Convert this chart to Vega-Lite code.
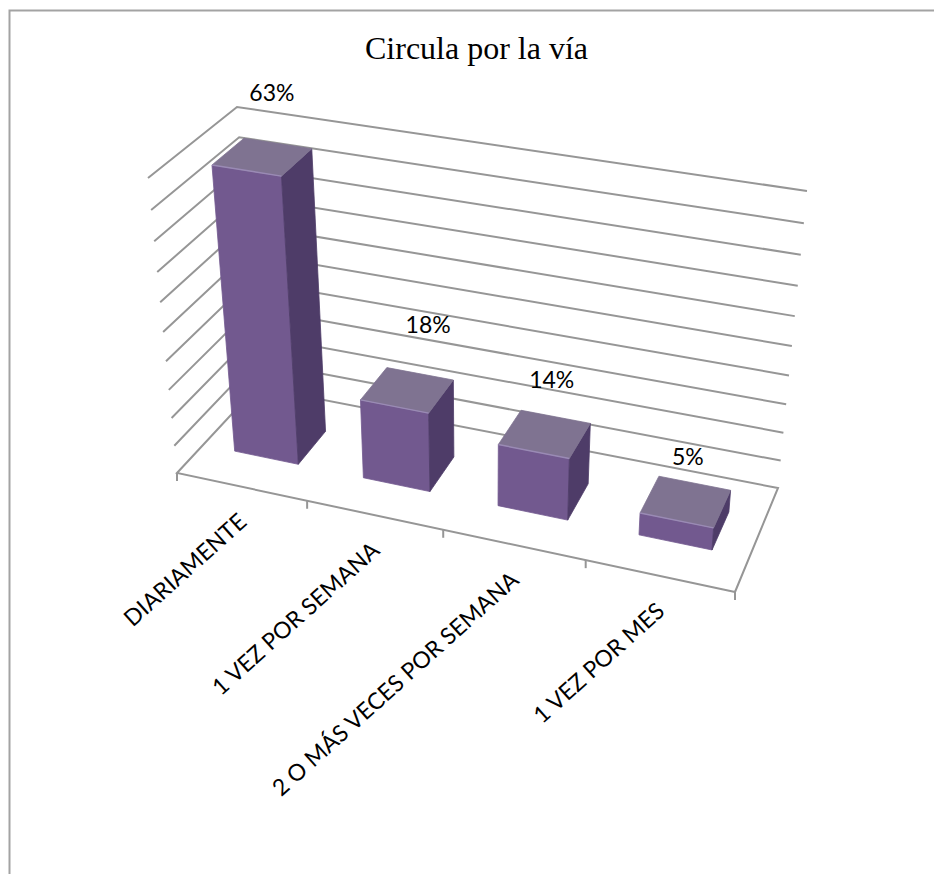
{
  "$schema": "https://vega.github.io/schema/vega-lite/v6.json",
  "width": 934,
  "height": 874,
  "padding": 0,
  "autosize": "none",
  "background": "white",
  "title": {"text": "Circula por la vía", "font": "Liberation Serif", "fontSize": 32, "fontWeight": "normal", "color": "#000000", "anchor": "middle", "offset": -66, "dx": 9.5},
  "config": {"view": {"stroke": null}},
  "datasets": {
    "respuestas": [
      {"categoria": "DIARIAMENTE", "porcentaje": 63},
      {"categoria": "1 VEZ POR SEMANA", "porcentaje": 18},
      {"categoria": "2 O MÁS VECES POR SEMANA", "porcentaje": 14},
      {"categoria": "1 VEZ POR MES", "porcentaje": 5}
    ],
    "rejilla": [
      {"valor": 0}, {"valor": 6.4}, {"valor": 12.8}, {"valor": 19.2}, {"valor": 25.6}, {"valor": 32},
      {"valor": 38.4}, {"valor": 44.8}, {"valor": 51.2}, {"valor": 57.6}, {"valor": 64}
    ],
    "divisiones": [{"limite": 0}, {"limite": 1}, {"limite": 2}, {"limite": 3}, {"limite": 4}]
  },
  "encoding": {
    "x": {"field": "px", "type": "quantitative", "scale": {"domain": [0, 934]}, "axis": null},
    "y": {"field": "py", "type": "quantitative", "scale": {"domain": [0, 874], "reverse": true}, "axis": null}
  },
  "layer": [
    {
      "data": {"name": "rejilla"},
      "transform": [
        {"calculate": "[{k:0,u:1,w:0,suelo:true},{k:1,u:0,w:0,suelo:false},{k:2,u:0,w:1,suelo:false},{k:3,u:1,w:1,suelo:false},{k:4,u:1,w:0,suelo:true}]", "as": "vertices"},
        {"flatten": ["vertices"], "as": ["vertice"]},
        {"filter": "datum.valor === 0 || !datum.vertice.suelo"},
        {"calculate": "datum.vertice.k", "as": "k"},
        {"calculate": "datum.vertice.u", "as": "uu"},
        {"calculate": "datum.vertice.w", "as": "ww"},
        {"calculate": "(datum.valor/64)/((datum.valor/64)+1.092*(1-datum.valor/64))", "as": "vv"},
        {"calculate": "(1-datum.vv)*((1-datum.ww)*((1-datum.uu)*177+datum.uu*735)+datum.ww*((1-datum.uu)*257+datum.uu*778))+datum.vv*((1-datum.ww)*((1-datum.uu)*148+datum.uu*758)+datum.ww*((1-datum.uu)*237+datum.uu*807))", "as": "px"},
        {"calculate": "(1-datum.vv)*((1-datum.ww)*((1-datum.uu)*473+datum.uu*592)+datum.ww*((1-datum.uu)*387+datum.uu*488))+datum.vv*((1-datum.ww)*((1-datum.uu)*178+datum.uu*279)+datum.ww*((1-datum.uu)*107+datum.uu*191))", "as": "py"}
      ],
      "mark": {"type": "line", "stroke": "#969696", "strokeWidth": 2, "interpolate": "linear"},
      "encoding": {"detail": {"field": "valor"}, "order": {"field": "k", "type": "quantitative"}}
    },
    {
      "data": {"name": "divisiones"},
      "transform": [
        {"calculate": "(datum.limite/4)/((datum.limite/4)+1.096*(1-datum.limite/4))", "as": "uu"},
        {"calculate": "(1-datum.uu)*177+datum.uu*735", "as": "px"},
        {"calculate": "(1-datum.uu)*473+datum.uu*592", "as": "py"},
        {"calculate": "datum.py+8", "as": "py2"}
      ],
      "mark": {"type": "rule", "stroke": "#969696", "strokeWidth": 2},
      "encoding": {"y2": {"field": "py2"}}
    },
    {
      "data": {"name": "respuestas"},
      "transform": [
        {"window": [{"op": "row_number", "as": "n"}]},
        {"calculate": "[{cara:'frente',k:0,a:0,b:0,c:0},{cara:'frente',k:1,a:1,b:0,c:0},{cara:'frente',k:2,a:1,b:1,c:0},{cara:'frente',k:3,a:0,b:1,c:0},{cara:'lado',k:0,a:1,b:0,c:0},{cara:'lado',k:1,a:1,b:0,c:1},{cara:'lado',k:2,a:1,b:1,c:1},{cara:'lado',k:3,a:1,b:1,c:0},{cara:'tapa',k:0,a:0,b:1,c:0},{cara:'tapa',k:1,a:1,b:1,c:0},{cara:'tapa',k:2,a:1,b:1,c:1},{cara:'tapa',k:3,a:0,b:1,c:1}]", "as": "vertices"},
        {"flatten": ["vertices"], "as": ["vertice"]},
        {"calculate": "datum.vertice.cara", "as": "cara"},
        {"calculate": "datum.vertice.k", "as": "k"},
        {"calculate": "(datum.n-1+0.25+0.5*datum.vertice.a)/4", "as": "t"},
        {"calculate": "datum.t/(datum.t+1.096*(1-datum.t))", "as": "uu"},
        {"calculate": "0.33+0.37*datum.vertice.c", "as": "ww"},
        {"calculate": "datum.vertice.b*datum.porcentaje/64", "as": "v"},
        {"calculate": "datum.v/(datum.v+1.092*(1-datum.v))", "as": "vv"},
        {"calculate": "(1-datum.vv)*((1-datum.ww)*((1-datum.uu)*177+datum.uu*735)+datum.ww*((1-datum.uu)*257+datum.uu*778))+datum.vv*((1-datum.ww)*((1-datum.uu)*148+datum.uu*758)+datum.ww*((1-datum.uu)*237+datum.uu*807))", "as": "px"},
        {"calculate": "(1-datum.vv)*((1-datum.ww)*((1-datum.uu)*473+datum.uu*592)+datum.ww*((1-datum.uu)*387+datum.uu*488))+datum.vv*((1-datum.ww)*((1-datum.uu)*178+datum.uu*279)+datum.ww*((1-datum.uu)*107+datum.uu*191))", "as": "py"}
      ],
      "mark": {"type": "line", "strokeWidth": 0.8, "interpolate": "linear-closed"},
      "encoding": {
        "detail": [{"field": "categoria"}, {"field": "cara"}],
        "order": {"field": "k", "type": "quantitative"},
        "fill": {"field": "cara", "type": "nominal", "legend": null, "scale": {"domain": ["frente", "lado", "tapa"], "range": ["#72598f", "#4e3c68", "#7f7391"]}},
        "stroke": {"field": "cara", "type": "nominal", "legend": null, "scale": {"domain": ["frente", "lado", "tapa"], "range": ["#72598f", "#4e3c68", "#7f7391"]}}
      }
    },
    {
      "data": {"name": "respuestas"},
      "transform": [
        {"window": [{"op": "row_number", "as": "n"}]},
        {"calculate": "[0,1]", "as": "extremos"},
        {"flatten": ["extremos"], "as": ["a"]},
        {"calculate": "(datum.n-1+0.25+0.5*datum.a)/4", "as": "t"},
        {"calculate": "datum.t/(datum.t+1.096*(1-datum.t))", "as": "uu"},
        {"calculate": "0.33", "as": "ww"},
        {"calculate": "datum.porcentaje/64", "as": "v"},
        {"calculate": "datum.v/(datum.v+1.092*(1-datum.v))", "as": "vv"},
        {"calculate": "(1-datum.vv)*((1-datum.ww)*((1-datum.uu)*177+datum.uu*735)+datum.ww*((1-datum.uu)*257+datum.uu*778))+datum.vv*((1-datum.ww)*((1-datum.uu)*148+datum.uu*758)+datum.ww*((1-datum.uu)*237+datum.uu*807))", "as": "px"},
        {"calculate": "(1-datum.vv)*((1-datum.ww)*((1-datum.uu)*473+datum.uu*592)+datum.ww*((1-datum.uu)*387+datum.uu*488))+datum.vv*((1-datum.ww)*((1-datum.uu)*178+datum.uu*279)+datum.ww*((1-datum.uu)*107+datum.uu*191))", "as": "py"}
      ],
      "mark": {"type": "line", "stroke": "#9a8ab5", "strokeWidth": 1.4},
      "encoding": {"detail": {"field": "categoria"}, "order": {"field": "a", "type": "quantitative"}}
    },
    {
      "data": {"name": "respuestas"},
      "transform": [
        {"window": [{"op": "row_number", "as": "n"}]},
        {"calculate": "(datum.n-0.5)/4", "as": "t"},
        {"calculate": "datum.t/(datum.t+1.096*(1-datum.t))", "as": "uu"},
        {"calculate": "0.5", "as": "ww"},
        {"calculate": "datum.porcentaje/64", "as": "v"},
        {"calculate": "datum.v/(datum.v+1.092*(1-datum.v))", "as": "vv"},
        {"calculate": "[11,22,8,3][datum.n-1]+(1-datum.vv)*((1-datum.ww)*((1-datum.uu)*177+datum.uu*735)+datum.ww*((1-datum.uu)*257+datum.uu*778))+datum.vv*((1-datum.ww)*((1-datum.uu)*148+datum.uu*758)+datum.ww*((1-datum.uu)*237+datum.uu*807))", "as": "px"},
        {"calculate": "[-64,-65,-55,-45][datum.n-1]+(1-datum.vv)*((1-datum.ww)*((1-datum.uu)*473+datum.uu*592)+datum.ww*((1-datum.uu)*387+datum.uu*488))+datum.vv*((1-datum.ww)*((1-datum.uu)*178+datum.uu*279)+datum.ww*((1-datum.uu)*107+datum.uu*191))", "as": "py"},
        {"calculate": "datum.porcentaje+'%'", "as": "etiqueta"}
      ],
      "mark": {"type": "text", "font": "Lato", "fontSize": 23, "color": "#000000", "align": "center", "baseline": "middle"},
      "encoding": {"text": {"field": "etiqueta"}}
    },
    {
      "data": {"name": "respuestas"},
      "transform": [
        {"window": [{"op": "row_number", "as": "n"}]},
        {"calculate": "(datum.n-0.5)/4", "as": "t"},
        {"calculate": "datum.t/(datum.t+1.096*(1-datum.t))", "as": "uu"},
        {"calculate": "2+(1-datum.uu)*177+datum.uu*735", "as": "px"},
        {"calculate": "32+(1-datum.uu)*473+datum.uu*592", "as": "py"}
      ],
      "mark": {"type": "text", "font": "Lato", "fontSize": 23, "color": "#000000", "align": "right", "baseline": "middle", "angle": 318},
      "encoding": {"text": {"field": "categoria"}}
    },
    {
      "data": {"values": [{"borde": "marco"}]},
      "transform": [
        {"calculate": "[{k:0,x:9.5,y:874},{k:1,x:9.5,y:10.5},{k:2,x:934,y:10.5}]", "as": "vertices"},
        {"flatten": ["vertices"], "as": ["vertice"]},
        {"calculate": "datum.vertice.k", "as": "k"},
        {"calculate": "datum.vertice.x", "as": "px"},
        {"calculate": "datum.vertice.y", "as": "py"}
      ],
      "mark": {"type": "line", "stroke": "#a3a3a3", "strokeWidth": 2},
      "encoding": {"detail": {"field": "borde"}, "order": {"field": "k", "type": "quantitative"}}
    }
  ]
}
